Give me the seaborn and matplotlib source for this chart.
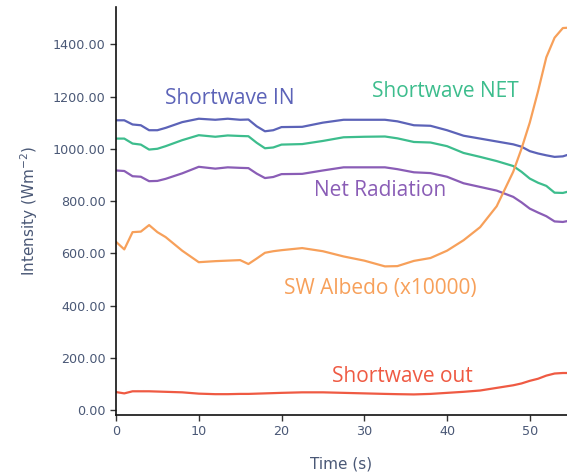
import matplotlib
matplotlib.use("Agg")
import matplotlib.pyplot as plt
import seaborn as sns
import pandas as pd

# Time axis (s)
time_s = [0, 1, 2, 3, 4, 5, 6, 8, 10, 12, 13.5, 15, 16, 17, 18, 19, 20, 22.5, 25,
          27.5, 30, 32.5, 34, 36, 38, 40, 42, 44, 46, 48, 49, 50, 51, 52, 53, 54, 54.5]

shortwave_in = [1109, 1109, 1093, 1090, 1071, 1071, 1080, 1102, 1115, 1111, 1115, 1111,
                1112, 1086, 1067, 1071, 1083, 1084, 1100, 1111, 1111, 1111, 1105, 1090,
                1088, 1071, 1050, 1039, 1028, 1017, 1008, 991, 982, 975, 969, 971, 976]

shortwave_net = [1039, 1039, 1020, 1016, 997, 1000, 1010, 1033, 1052, 1046, 1051, 1049,
                 1048, 1023, 1002, 1005, 1016, 1018, 1030, 1044, 1046, 1047, 1040, 1026,
                 1024, 1010, 984, 969, 953, 934, 912, 886, 870, 858, 832, 831, 835]

net_radiation = [917, 915, 895, 893, 876, 877, 885, 906, 931, 924, 929, 927,
                 926, 905, 888, 892, 903, 904, 917, 929, 929, 929, 922, 910,
                 907, 893, 868, 854, 840, 816, 795, 771, 756, 742, 722, 720, 723]

sw_albedo_x10000 = [644, 615, 681, 683, 708, 681, 662, 610, 566, 570, 572, 574,
                    559, 580, 602, 608, 612, 620, 608, 588, 572, 550, 551, 571,
                    582, 610, 650, 700, 780, 912, 1000, 1100, 1220, 1350, 1425, 1462, 1463]

shortwave_out = [69, 64, 72, 72, 72, 71, 70, 68, 63, 61, 61, 62,
                 62, 63, 64, 65, 66, 68, 68, 66, 64, 62, 61, 60,
                 62, 66, 70, 75, 85, 95, 102, 112, 120, 132, 140, 142, 142]

series_names = ["Shortwave IN", "Shortwave NET", "Net Radiation",
                "SW Albedo (x10000)", "Shortwave out"]
series_colors = ["#5c63b8", "#3dbd8d", "#8a5db6", "#f7a05a", "#ef5a43"]
# label anchor (time, intensity) for each curve name
label_x = [13.7, 39.8, 31.9, 32.0, 34.6]
label_y = [1194, 1220, 839, 467, 130]

long = pd.DataFrame({
    "Time": time_s * 5,
    "Intensity": shortwave_in + shortwave_net + net_radiation + sw_albedo_x10000 + shortwave_out,
    "Series": sum([[n] * len(time_s) for n in series_names], []),
})

sns.set_style("white")
plt.rcParams["font.family"] = ["Open Sans", "DejaVu Sans"]

fig = plt.figure(figsize=(5.67, 4.76), dpi=100)
ax = fig.add_axes([0.2046, 0.128, 0.7954, 0.857])

sns.lineplot(data=long, x="Time", y="Intensity", hue="Series", hue_order=series_names,
             palette=series_colors, linewidth=1.6, legend=False, ax=ax)

for name, col, lx, ly in zip(series_names, series_colors, label_x, label_y):
    ax.text(lx, ly, name, color=col, fontsize=15, ha="center", va="center")

ax.set_xlim(0, 54.5)
ax.set_ylim(-19, 1542)
ax.set_xticks([0, 10, 20, 30, 40, 50])
ax.set_yticks([0, 200, 400, 600, 800, 1000, 1200, 1400])
ax.set_yticklabels([f"{v:.2f}" for v in [0, 200, 400, 600, 800, 1000, 1200, 1400]])

tick_col = "#4a5876"
ax.tick_params(axis="both", direction="out", length=4, width=1, color="#333333",
               labelcolor=tick_col, labelsize=9.2, left=True, bottom=True)
for lab in ax.get_xticklabels() + ax.get_yticklabels():
    lab.set_family("DejaVu Sans")
ax.set_xlabel("Time (s)", color=tick_col, fontsize=11, labelpad=13, family="DejaVu Sans")
ax.set_ylabel("Intensity (Wm$^{-2}$)", color=tick_col, fontsize=11, labelpad=9,
              family="DejaVu Sans")

for side in ["top", "right"]:
    ax.spines[side].set_visible(False)
for side in ["left", "bottom"]:
    ax.spines[side].set_color("#111111")
    ax.spines[side].set_linewidth(1.2)

fig.savefig("out.png", dpi=100)
